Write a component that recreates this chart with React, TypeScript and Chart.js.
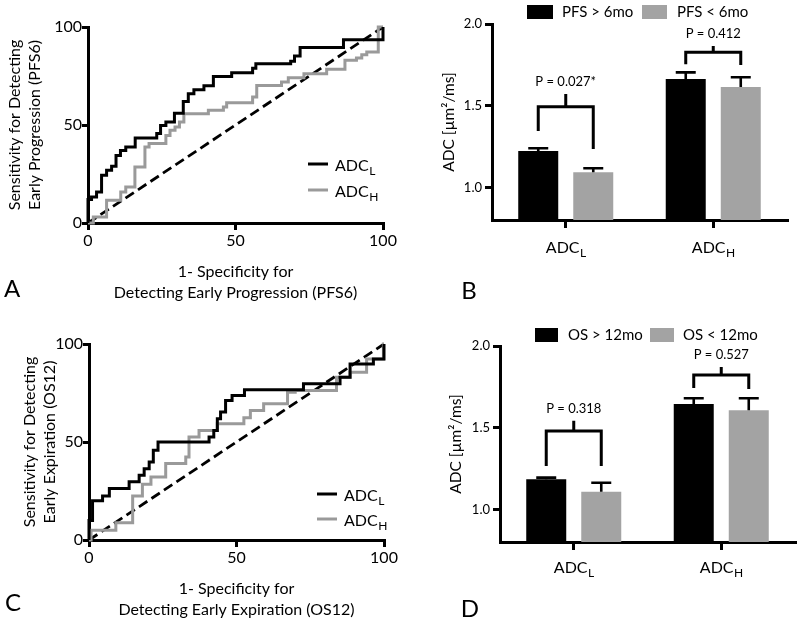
import React, { useEffect, useRef } from 'react';
import { Chart, registerables } from 'chart.js';

Chart.register(...registerables);

const FONT = 'Lato, "Open Sans", "DejaVu Sans", sans-serif';
const BLACK = '#000000';
const GRAY_LINE = '#9a9a9a';
const GRAY_BAR = '#a3a3a3';

// ---------- Panel A: ROC, early progression (PFS6) ----------
const pfsRocLowX = [0, 0, 1.2, 2.9, 4.6, 6.3, 8, 9.5, 11, 12.8, 16, 23.3, 24.6, 26.4, 29.3, 32.3, 34, 35.9, 39.3, 42.5, 48.7, 55.8, 56.9, 68.7, 70, 71.9, 86.6, 100];
const pfsRocLowY = [0, 12, 13.3, 15.8, 24.3, 26.9, 29, 34.5, 37, 38.8, 43.4, 45.6, 49.8, 51.5, 56, 62, 66, 68, 70, 74.8, 76.7, 79, 81.3, 82.5, 85.2, 89.5, 93.5, 100];
const pfsRocHighX = [0, 1.8, 6.3, 11.1, 12.8, 15.9, 19.3, 20.7, 26.4, 27.8, 29.5, 31, 32.5, 40.8, 45.9, 47, 55.8, 57.2, 65.6, 67.9, 73.2, 80.9, 87.1, 91, 92.8, 94.5, 98.4, 100];
const pfsRocHighY = [0, 3, 11.6, 15.8, 18.4, 28.6, 38.8, 40.5, 44.7, 47.3, 49, 51.5, 55.8, 57.5, 59.2, 61.4, 64.3, 70.2, 72, 74.1, 76.2, 78.4, 83, 84.2, 85.9, 87.2, 100, 100];

// ---------- Panel C: ROC, early expiration (OS12) ----------
const osRocLowX = [0, 0, 1.2, 4.6, 6.9, 13.6, 17, 18.7, 20.4, 21.8, 23.4, 40.7, 42.3, 43.5, 44.6, 46.3, 48.5, 52.7, 72.7, 85.1, 88.5, 96.4, 100];
const osRocLowY = [0, 10, 20, 22.5, 26.3, 29.7, 33, 36.4, 39.8, 45.8, 50, 52.5, 55.9, 61.9, 65.3, 71.2, 73.7, 76.6, 79.7, 83, 89.8, 92.4, 100];
const osRocHighX = [0, 0.7, 9.1, 14.8, 18.1, 21, 26, 32.8, 33.9, 37.3, 43.5, 52.5, 54.7, 59.2, 67.3, 69.9, 83.9, 88.5, 94.1, 99.8, 100];
const osRocHighY = [0, 5, 8.8, 22.5, 28.5, 32.2, 39, 42.4, 52.5, 55.9, 59.3, 62.4, 66.1, 69.5, 75.4, 76.3, 83, 85.6, 92.4, 100, 100];

const rocTicks = [0, 50, 100];

// ---------- Panels B & D: bar charts ----------
const groupMain = ['ADC', 'ADC'];
const groupSub = ['L', 'H'];
const adcTicks = [1.0, 1.5, 2.0];

const pfsAbove = [1.222, 1.663];
const pfsAboveErr = [0.017, 0.041];
const pfsBelow = [1.092, 1.614];
const pfsBelowErr = [0.025, 0.06];
const pfsBracketLeft = [1.345, 1.753];
const pfsBracketTop = [1.494, 1.827];
const pfsBracketRight = [1.235, 1.749];
const pfsBracketPeak = [1.571, 1.865];
const pfsPLabels = ['P = 0.027*', 'P = 0.412'];
const pfsLegend = ['PFS > 6mo', 'PFS < 6mo'];

const osAbove = [1.184, 1.645];
const osAboveErr = [0.01, 0.035];
const osBelow = [1.108, 1.606];
const osBelowErr = [0.055, 0.074];
const osBracketLeft = [1.265, 1.743];
const osBracketTop = [1.48, 1.822];
const osBracketRight = [1.265, 1.737];
const osBracketPeak = [1.543, 1.871];
const osPLabels = ['P = 0.318', 'P = 0.527'];
const osLegend = ['OS > 12mo', 'OS < 12mo'];

type Area = { left: number; top: number; right: number; bottom: number };

function stepPath(xs: number[], ys: number[]) {
  const out: { x: number; y: number }[] = [];
  for (let i = 0; i < xs.length; i++) {
    if (i > 0) out.push({ x: xs[i], y: ys[i - 1] });
    out.push({ x: xs[i], y: ys[i] });
  }
  return out;
}

function drawSub(ctx: CanvasRenderingContext2D, main: string, sub: string, x: number, y: number, size: number, align: 'left' | 'center') {
  const subSize = size * 0.75;
  ctx.font = `${size}px ${FONT}`;
  const w1 = ctx.measureText(main).width;
  ctx.font = `${subSize}px ${FONT}`;
  const w2 = ctx.measureText(sub).width;
  const start = align === 'center' ? x - (w1 + w2) / 2 : x;
  ctx.textAlign = 'left';
  ctx.textBaseline = 'middle';
  ctx.font = `${size}px ${FONT}`;
  ctx.fillText(main, start, y);
  ctx.font = `${subSize}px ${FONT}`;
  ctx.fillText(sub, start + w1 + 0.5, y + size * 0.33);
}

function axisGrid(len: number) {
  return { drawOnChartArea: false, drawTicks: true, tickLength: len, tickWidth: 3, tickColor: BLACK, color: BLACK, lineWidth: 3 };
}
const axisBorder = { display: true, color: BLACK, width: 3 };

function rocConfig(p: {
  w: number; h: number; area: Area;
  lowX: number[]; lowY: number[]; highX: number[]; highY: number[];
  yTitle: string[]; yTitlePad: number; xTitle: string[]; xTitlePad: number;
  legendX: number; legendY: number[]; letter: string; letterX: number; letterY: number;
}): any {
  const tickFont = { family: FONT, size: 16 };
  const overlay = {
    id: 'rocOverlay',
    afterDraw(chart: any) {
      const ctx = chart.ctx as CanvasRenderingContext2D;
      ctx.save();
      [0, 1].forEach((i) => {
        const y = p.legendY[i];
        ctx.strokeStyle = chart.data.datasets[i].borderColor;
        ctx.lineWidth = 3;
        ctx.beginPath();
        ctx.moveTo(p.legendX, y);
        ctx.lineTo(p.legendX + 20, y);
        ctx.stroke();
        ctx.fillStyle = BLACK;
        drawSub(ctx, 'ADC', groupSub[i], p.legendX + 27, y + 2, 16, 'left');
      });
      ctx.fillStyle = BLACK;
      ctx.font = `24px ${FONT}`;
      ctx.textAlign = 'center';
      ctx.textBaseline = 'middle';
      ctx.fillText(p.letter, p.letterX, p.letterY);
      ctx.restore();
    },
  };
  return {
    type: 'line',
    data: {
      datasets: [
        { data: stepPath(p.lowX, p.lowY), borderColor: BLACK, borderWidth: 3, pointRadius: 0, fill: false, clip: 6, tension: 0 },
        { data: stepPath(p.highX, p.highY), borderColor: GRAY_LINE, borderWidth: 3, pointRadius: 0, fill: false, clip: 6, tension: 0 },
        { data: [{ x: 0, y: 0 }, { x: 100, y: 100 }], borderColor: BLACK, borderWidth: 2.8, borderDash: [10, 5], pointRadius: 0, fill: false, clip: 6 },
      ],
    },
    options: {
      animation: false,
      responsive: false,
      maintainAspectRatio: false,
      events: [],
      layout: { padding: { left: 0, top: p.area.top, right: p.w - p.area.right, bottom: 0 } },
      plugins: { legend: { display: false }, tooltip: { enabled: false } },
      scales: {
        x: {
          type: 'linear', min: 0, max: 100,
          afterBuildTicks: (s: any) => { s.ticks = rocTicks.map((v) => ({ value: v })); },
          ticks: { color: BLACK, font: tickFont, padding: 1, maxRotation: 0, autoSkip: false },
          grid: axisGrid(7),
          border: axisBorder,
          title: { display: true, text: p.xTitle, color: BLACK, font: { family: FONT, size: 16, lineHeight: '21px' }, padding: { top: 0, bottom: p.xTitlePad } },
          afterFit: (s: any) => { s.height = p.h - p.area.bottom; },
        },
        y: {
          type: 'linear', min: 0, max: 100,
          afterBuildTicks: (s: any) => { s.ticks = rocTicks.map((v) => ({ value: v })); },
          ticks: { color: BLACK, font: tickFont, padding: 0 },
          grid: axisGrid(6),
          border: axisBorder,
          title: { display: true, text: p.yTitle, color: BLACK, font: { family: FONT, size: 16, lineHeight: '20px' }, padding: { top: p.yTitlePad, bottom: 0 } },
          afterFit: (s: any) => { s.width = p.area.left; },
        },
      },
    },
    plugins: [overlay],
  };
}

function barConfig(p: {
  w: number; h: number; area: Area;
  above: number[]; aboveErr: number[]; below: number[]; belowErr: number[];
  bLeft: number[]; bTop: number[]; bRight: number[]; bPeak: number[]; pLabels: string[];
  legend: string[]; legendBoxes: number[][]; legendTextX: number[]; legendY: number; legendBoxH: number;
  yTitlePad: number; labelOffset: number; letter: string; letterX: number; letterY: number;
}): any {
  const overlay = {
    id: 'barOverlay',
    afterDraw(chart: any) {
      const ctx = chart.ctx as CanvasRenderingContext2D;
      const ys = chart.scales.y;
      const xs = chart.scales.x;
      const m0 = chart.getDatasetMeta(0);
      const m1 = chart.getDatasetMeta(1);
      ctx.save();
      ctx.strokeStyle = BLACK;
      ctx.fillStyle = BLACK;
      ctx.lineWidth = 2.6;
      ctx.lineCap = 'butt';
      ctx.lineJoin = 'miter';
      // error bars (upper, capped)
      const sets: [any, number[], number[]][] = [[m0, p.above, p.aboveErr], [m1, p.below, p.belowErr]];
      sets.forEach(([meta, vals, errs]) => {
        meta.data.forEach((bar: any, i: number) => {
          const top = ys.getPixelForValue(vals[i] + errs[i]);
          ctx.beginPath();
          ctx.moveTo(bar.x, bar.y);
          ctx.lineTo(bar.x, top);
          ctx.moveTo(bar.x - 10, top);
          ctx.lineTo(bar.x + 10, top);
          ctx.stroke();
        });
      });
      // significance brackets
      ctx.lineWidth = 3;
      for (let i = 0; i < p.bTop.length; i++) {
        const xl = m0.data[i].x;
        const xr = m1.data[i].x;
        const xm = (xl + xr) / 2;
        const top = ys.getPixelForValue(p.bTop[i]);
        const peak = ys.getPixelForValue(p.bPeak[i]);
        ctx.beginPath();
        ctx.moveTo(xl, ys.getPixelForValue(p.bLeft[i]));
        ctx.lineTo(xl, top);
        ctx.lineTo(xr, top);
        ctx.lineTo(xr, ys.getPixelForValue(p.bRight[i]));
        ctx.moveTo(xm, top);
        ctx.lineTo(xm, peak);
        ctx.stroke();
        ctx.font = `13px ${FONT}`;
        ctx.textAlign = 'center';
        ctx.textBaseline = 'middle';
        ctx.fillText(p.pLabels[i], xm, peak - 12);
      }
      // category labels with subscripts
      for (let i = 0; i < groupMain.length; i++) {
        drawSub(ctx, groupMain[i], groupSub[i], xs.getPixelForTick(i), chart.chartArea.bottom + p.labelOffset, 16, 'center');
      }
      // legend
      [0, 1].forEach((i) => {
        const b = p.legendBoxes[i];
        ctx.fillStyle = chart.data.datasets[i].backgroundColor;
        ctx.fillRect(b[0], p.legendY - p.legendBoxH / 2, b[1] - b[0], p.legendBoxH);
        ctx.fillStyle = BLACK;
        ctx.font = `15px ${FONT}`;
        ctx.textAlign = 'left';
        ctx.textBaseline = 'middle';
        ctx.fillText(p.legend[i], p.legendTextX[i], p.legendY);
      });
      ctx.font = `24px ${FONT}`;
      ctx.textAlign = 'center';
      ctx.fillText(p.letter, p.letterX, p.letterY);
      ctx.restore();
    },
  };
  return {
    type: 'bar',
    data: {
      labels: groupMain.map((m, i) => m + groupSub[i]),
      datasets: [
        { label: p.legend[0], data: p.above, backgroundColor: BLACK, barPercentage: 0.727, categoryPercentage: 0.746 },
        { label: p.legend[1], data: p.below, backgroundColor: GRAY_BAR, barPercentage: 0.727, categoryPercentage: 0.746 },
      ],
    },
    options: {
      animation: false,
      responsive: false,
      maintainAspectRatio: false,
      events: [],
      layout: { padding: { left: 0, top: p.area.top, right: p.w - p.area.right, bottom: 0 } },
      plugins: { legend: { display: false }, tooltip: { enabled: false } },
      scales: {
        x: {
          ticks: { display: false },
          grid: { ...axisGrid(8), offset: false },
          border: axisBorder,
          afterFit: (s: any) => { s.height = p.h - p.area.bottom; },
        },
        y: {
          min: 0.8, max: 2.0,
          afterBuildTicks: (s: any) => { s.ticks = adcTicks.map((v) => ({ value: v })); },
          ticks: { color: BLACK, font: { family: FONT, size: 13 }, padding: 3, callback: (v: any) => Number(v).toFixed(1) },
          grid: axisGrid(7),
          border: axisBorder,
          title: { display: true, text: 'ADC [µm²/ms]', color: BLACK, font: { family: FONT, size: 15.5, lineHeight: '18px' }, padding: { top: p.yTitlePad, bottom: 0 } },
          afterFit: (s: any) => { s.width = p.area.left; },
        },
      },
    },
    plugins: [overlay],
  };
}

function ChartPanel({ left, top, width, height, build }: { left: number; top: number; width: number; height: number; build: () => any }) {
  const ref = useRef<HTMLCanvasElement>(null);
  useEffect(() => {
    if (!ref.current) return;
    const chart = new Chart(ref.current, build());
    return () => chart.destroy();
  }, []);
  return (
    <div style={{ position: 'absolute', left, top, width, height }}>
      <canvas ref={ref} width={width} height={height} style={{ width, height, display: 'block' }} />
    </div>
  );
}

export default function App() {
  return (
    <div style={{ position: 'absolute', left: 0, top: 0, width: 800, height: 623, background: '#fff', overflow: 'hidden' }}>
      <ChartPanel left={0} top={0} width={400} height={310} build={() => rocConfig({
        w: 400, h: 310, area: { left: 88, top: 27, right: 383, bottom: 223 },
        lowX: pfsRocLowX, lowY: pfsRocLowY, highX: pfsRocHighX, highY: pfsRocHighY,
        yTitle: ['Sensitivity for Detecting', 'Early Progression (PFS6)'], yTitlePad: 5,
        xTitle: ['1- Specificity for', 'Detecting Early Progression (PFS6)'], xTitlePad: 6.5,
        legendX: 308, legendY: [164, 190], letter: 'A', letterX: 12, letterY: 289,
      })} />
      <ChartPanel left={400} top={0} width={400} height={310} build={() => barConfig({
        w: 400, h: 310, area: { left: 92, top: 24, right: 387, bottom: 220 },
        above: pfsAbove, aboveErr: pfsAboveErr, below: pfsBelow, belowErr: pfsBelowErr,
        bLeft: pfsBracketLeft, bTop: pfsBracketTop, bRight: pfsBracketRight, bPeak: pfsBracketPeak, pLabels: pfsPLabels,
        legend: pfsLegend, legendBoxes: [[127, 153], [242, 267]], legendTextX: [162, 277], legendY: 12, legendBoxH: 14,
        yTitlePad: 39.5, labelOffset: 27.5, letter: 'B', letterX: 69, letterY: 291,
      })} />
      <ChartPanel left={0} top={310} width={400} height={313} build={() => rocConfig({
        w: 400, h: 313, area: { left: 89, top: 34, right: 384, bottom: 230 },
        lowX: osRocLowX, lowY: osRocLowY, highX: osRocHighX, highY: osRocHighY,
        yTitle: ['Sensitivity for Detecting', 'Early Expiration (OS12)'], yTitlePad: 20,
        xTitle: ['1- Specificity for', 'Detecting Early Expiration (OS12)'], xTitlePad: 2.5,
        legendX: 317, legendY: [184, 209], letter: 'C', letterX: 13, letterY: 293,
      })} />
      <ChartPanel left={400} top={310} width={400} height={313} build={() => barConfig({
        w: 400, h: 313, area: { left: 100, top: 36, right: 395, bottom: 232 },
        above: osAbove, aboveErr: osAboveErr, below: osBelow, belowErr: osBelowErr,
        bLeft: osBracketLeft, bTop: osBracketTop, bRight: osBracketRight, bPeak: osBracketPeak, pLabels: osPLabels,
        legend: osLegend, legendBoxes: [[135, 158], [250, 274]], legendTextX: [168, 283], legendY: 25, legendBoxH: 14,
        yTitlePad: 46.5, labelOffset: 25.5, letter: 'D', letterX: 70, letterY: 299,
      })} />
    </div>
  );
}
